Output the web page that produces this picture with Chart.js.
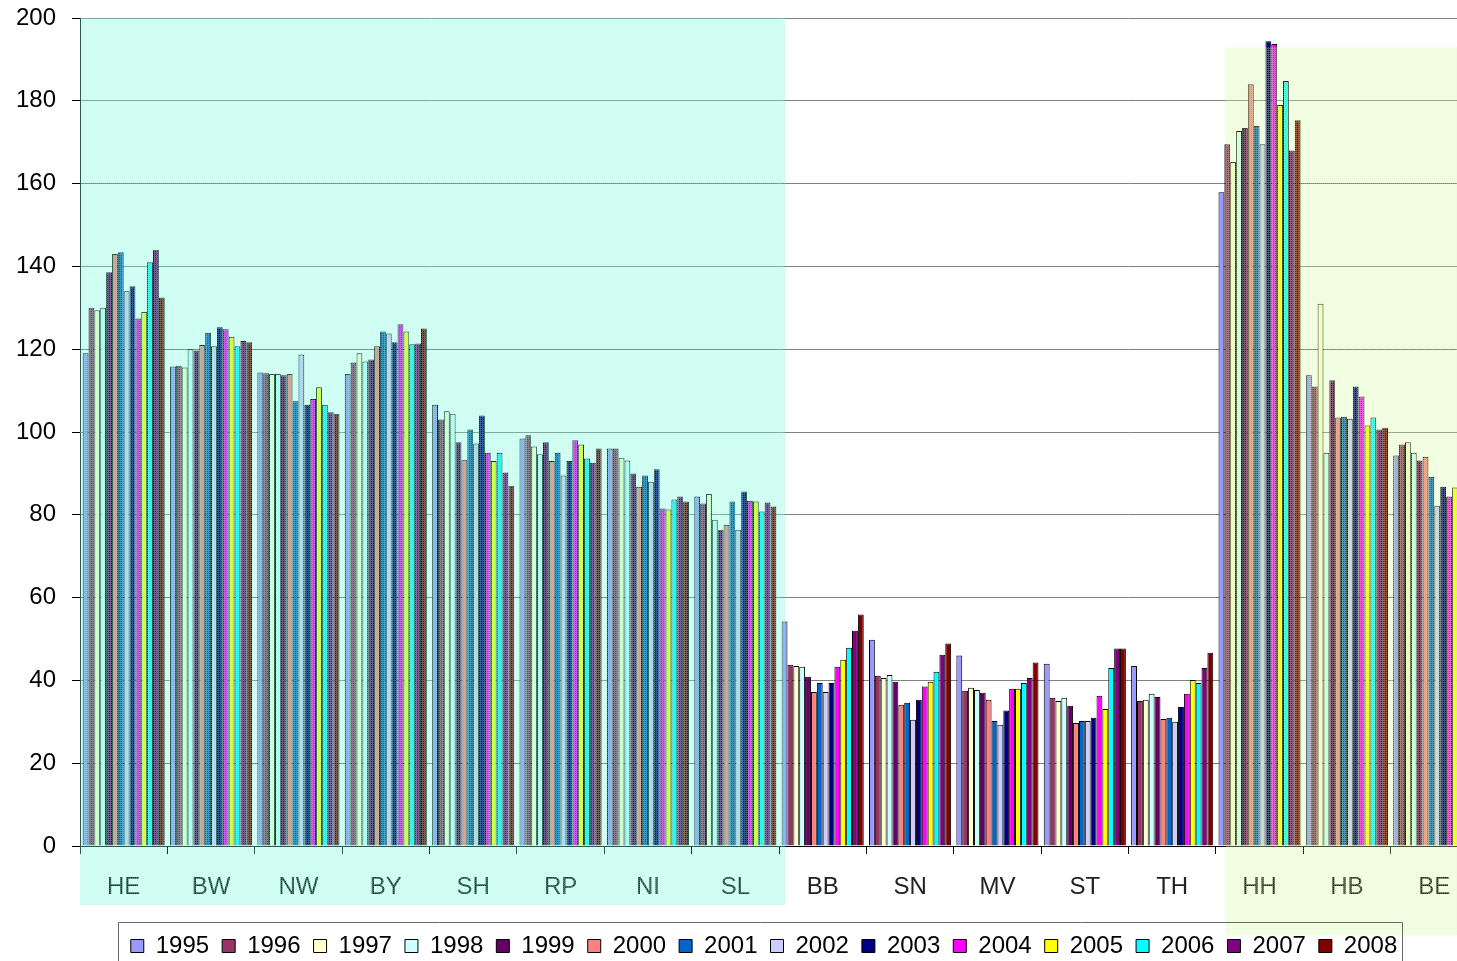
<!DOCTYPE html>
<html>
<head>
<meta charset="utf-8">
<script src="https://cdn.jsdelivr.net/npm/chart.js@4/dist/chart.umd.min.js"></script>
<style>
  html, body { margin: 0; padding: 0; background: #fff; overflow: hidden; }
  #wrap { position: absolute; left: 0; top: 0; width: 1478px; height: 968px; }
</style>
</head>
<body>
<div id="wrap"><canvas id="chart" width="1478" height="968"></canvas></div>
<script>
// Länder (Kategorien)
const laender = ['HE', 'BW', 'NW', 'BY', 'SH', 'RP', 'NI', 'SL', 'BB', 'SN', 'MV', 'ST', 'TH', 'HH', 'HB', 'BE'];
const jahre = ['1995', '1996', '1997', '1998', '1999', '2000', '2001', '2002', '2003', '2004', '2005', '2006', '2007', '2008'];

// Werte je Jahr, Reihenfolge wie laender
const w1995 = [119, 115.8, 114.4, 114, 106.6, 98.4, 96, 84.4, 54.2, 49.8, 46, 44, 43.5, 157.9, 113.7, 94.3];
const w1996 = [130, 116, 114.2, 116.8, 103, 99.2, 96, 82.7, 43.8, 41.1, 37.5, 35.8, 35, 169.5, 111, 97];
const w1997 = [129.4, 115.6, 114, 119, 105, 96.5, 93.8, 85, 43.5, 40.6, 38.2, 35, 35.3, 165.2, 131, 97.5];
const w1998 = [130, 120, 114, 117, 104.4, 94.6, 93.1, 78.8, 43.3, 41.3, 37.7, 35.8, 36.8, 172.7, 95, 95];
const w1999 = [138.6, 119.7, 113.7, 117.5, 97.5, 97.5, 90, 76.4, 40.9, 39.7, 37, 33.9, 36, 173.4, 112.5, 93.1];
const w2000 = [143, 121, 114, 120.7, 93.3, 93, 86.8, 77.6, 37.2, 34.1, 35.3, 29.7, 30.7, 184, 103.5, 94];
const w2001 = [143.4, 124, 107.4, 124.3, 100.6, 95, 89.5, 83.2, 39.4, 34.6, 30.2, 30.2, 31, 173.9, 103.7, 89.2];
const w2002 = [134, 120.7, 118.7, 123.8, 97.2, 89.5, 88, 76.4, 37.2, 30.5, 29.3, 30.2, 30, 169.5, 103.2, 82.2];
const w2003 = [135.2, 125.3, 106.6, 121.7, 104, 93, 91, 85.6, 39.4, 35.3, 32.7, 31, 33.6, 194.4, 111, 86.8];
const w2004 = [127.4, 124.8, 108, 126, 95, 98, 81.5, 83.4, 43.3, 38.5, 38, 36.3, 36.8, 193.7, 108.6, 84.4];
const w2005 = [129, 123, 110.8, 124.3, 93, 97, 81.3, 83.2, 45, 39.7, 38, 33.1, 40.1, 179, 101.6, 86.6];
const w2006 = [141, 120.7, 106.6, 121.2, 95, 93.6, 83.7, 80.8, 47.9, 42.1, 39.4, 43, 39.4, 184.8, 103.5, 86];
const w2007 = [144, 122, 104.8, 121.4, 90.2, 92.6, 84.4, 83, 52, 46.2, 40.6, 47.7, 43, 168, 100.6, 85];
const w2008 = [132.5, 121.7, 104.4, 125, 87, 96, 83.2, 82, 55.9, 48.9, 44.3, 47.7, 46.7, 175.3, 101, 85];
const werte = [w1995, w1996, w1997, w1998, w1999, w2000, w2001, w2002, w2003, w2004, w2005, w2006, w2007, w2008];

// Excel-Standardfarben
const farben = ['#9999FF', '#993366', '#FFFFCC', '#CCFFFF', '#660066', '#FF8080', '#0066CC',
                '#CCCCFF', '#000080', '#FF00FF', '#FFFF00', '#00FFFF', '#800080', '#800000'];

const FONT = '"Liberation Sans", Arial, sans-serif';

// Punktraster für die hinterlegten Flächen
function makePattern(ctx, rgba) {
    const c = document.createElement('canvas');
    c.width = 2; c.height = 2;
    const g = c.getContext('2d');
    g.fillStyle = rgba;
    g.fillRect(0, 0, 2, 2);
    g.clearRect(1, 1, 1, 1);
    return ctx.createPattern(c, 'repeat');
}

const shading = {
    id: 'shading',
    afterDatasetsDraw(chart) {
        const ctx = chart.ctx;
        const x = chart.scales.x;
        const y = chart.scales.y;
        const catW = (x.right - x.left) / laender.length;
        ctx.save();
        // Westen: HE .. SL
        ctx.fillStyle = makePattern(ctx, 'rgba(120,245,210,0.36)');
        const cyanRight = x.left + 8 * catW + 6;
        ctx.fillRect(chart.chartArea.left, chart.chartArea.top, cyanRight - chart.chartArea.left, 905 - chart.chartArea.top);
        // Stadtstaaten: HH .. BE
        ctx.fillStyle = makePattern(ctx, 'rgba(205,245,160,0.32)');
        const greenLeft = x.left + 13 * catW + 10;
        const greenTop = y.getPixelForValue(193);
        ctx.fillRect(greenLeft, greenTop, chart.width - greenLeft, 935 - greenTop);
        ctx.restore();
    }
};

// Legende etwas nach rechts schieben und umrahmen
const legendBorder = {
    id: 'legendBorder',
    afterLayout(chart) {
        const lg = chart.legend;
        if (!lg) return;
        lg.left += 25;
        lg.right += 25;
    },
    afterDraw(chart) {
        const lg = chart.legend;
        if (!lg || !lg.legendHitBoxes || !lg.legendHitBoxes.length) return;
        const boxes = lg.legendHitBoxes;
        const first = boxes[0];
        const last = boxes[boxes.length - 1];
        const cy = first.top + first.height / 2;
        const ctx = chart.ctx;
        ctx.save();
        ctx.strokeStyle = '#666';
        ctx.lineWidth = 1;
        ctx.beginPath();
        const l = Math.round(first.left - 13) + 0.5;
        const r = Math.round(last.left + last.width + 5) + 0.5;
        const t = Math.round(cy - 24) + 0.5;
        ctx.moveTo(l, chart.height);
        ctx.lineTo(l, t);
        ctx.lineTo(r, t);
        ctx.lineTo(r, chart.height);
        ctx.stroke();
        ctx.restore();
    }
};

const ctx = document.getElementById('chart').getContext('2d');
new Chart(ctx, {
    type: 'bar',
    data: {
        labels: laender,
        datasets: jahre.map((j, i) => ({
            label: j,
            data: werte[i],
            backgroundColor: farben[i],
            borderColor: '#000',
            borderWidth: 1,
            categoryPercentage: 0.94,
            barPercentage: 1.0
        }))
    },
    options: {
        responsive: false,
        animation: false,
        layout: { padding: { top: 18, left: 0, right: 0, bottom: 0 } },
        plugins: {
            legend: {
                position: 'bottom',
                labels: {
                    boxWidth: 13,
                    boxHeight: 13,
                    padding: 13,
                    color: '#000',
                    font: { family: FONT, size: 24 }
                }
            },
            tooltip: { enabled: false }
        },
        scales: {
            x: {
                afterFit(scale) { scale.height = 75; },
                grid: {
                    offset: true,
                    drawOnChartArea: false,
                    drawTicks: true,
                    tickLength: 8,
                    tickColor: '#000'
                },
                border: { color: '#000', width: 1 },
                ticks: {
                    color: '#222',
                    padding: 19,
                    maxRotation: 0,
                    font: { family: FONT, size: 24 }
                }
            },
            y: {
                min: 0,
                max: 200,
                afterFit(scale) {
                    scale.width = 80;
                    scale.paddingTop = 0;
                    scale.paddingBottom = 0;
                },
                grid: {
                    color: '#808080',
                    tickLength: 8,
                    tickColor: '#000'
                },
                border: { color: '#000', width: 1 },
                ticks: {
                    stepSize: 20,
                    color: '#000',
                    padding: 16,
                    font: { family: FONT, size: 24 }
                }
            }
        }
    },
    plugins: [shading, legendBorder]
});
</script>
</body>
</html>
